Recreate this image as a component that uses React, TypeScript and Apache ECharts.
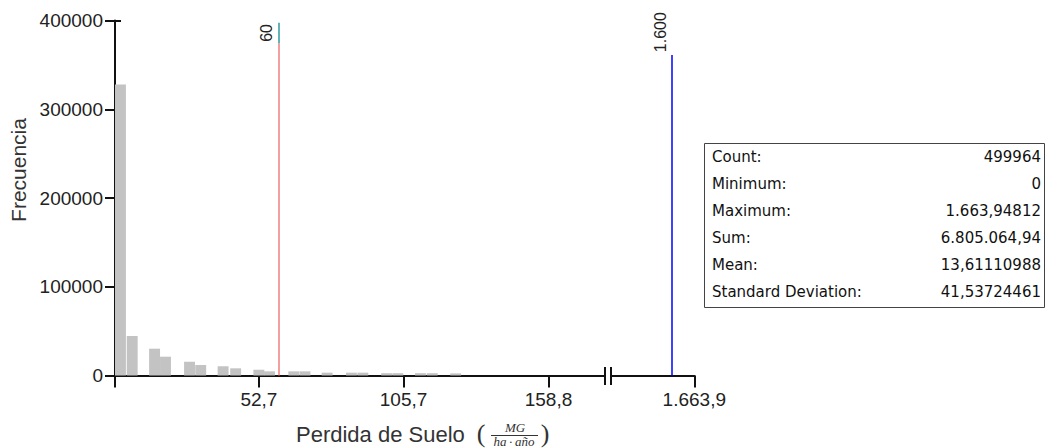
import React, { useEffect, useRef } from "react";
import * as echarts from "echarts";

// ---- data ----
const binStarts = [0, 4.3, 12.5, 16.5, 25.3, 29.4, 37.6, 42.2, 50.7, 54.6, 63.5, 67.6, 75.7, 84.6, 88.8, 97.5, 101.6, 109.9, 114.2, 122.8];
const binCounts = [328000, 44500, 30200, 21200, 15500, 11800, 10400, 8100, 6500, 4700, 4700, 4700, 3200, 3200, 3200, 2600, 2600, 2600, 2600, 2400];
const BIN_WIDTH = 4.0;
const xTicksLeft = [52.7, 105.7, 158.8];
const xTicksRight = [1663.9];
const markerLow = 60;
const markerHigh = 1600;
const statLabels = ["Count:", "Minimum:", "Maximum:", "Sum:", "Mean:", "Standard Deviation:"];
const statValues = ["499964", "0", "1.663,94812", "6.805.064,94", "13,61110988", "41,53724461"];

function fmtEs(v: number, decimals: number): string {
  const [i, d] = v.toFixed(decimals).split(".");
  const ii = i.replace(/\B(?=(\d{3})+(?!\d))/g, ".");
  return d ? ii + "," + d : ii;
}

const AX = "#111";
const LABEL = "#222";

export default function App() {
  const ref = useRef<HTMLDivElement>(null);
  useEffect(() => {
    if (!ref.current) return;
    const chart = echarts.init(ref.current, null, { renderer: "svg" });
    const axisLineStyle = { color: AX, width: 2 };
    const option: any = {
      animation: false,
      textStyle: { fontFamily: "Liberation Sans" },
      grid: [
        { left: 115, top: 20.5, width: 490, height: 355 },
        { left: 611, top: 20.5, width: 83.3, height: 355 },
      ],
      xAxis: [
        {
          type: "value", gridIndex: 0, min: 0, max: 179.5,
          axisLine: { show: true, onZero: false, lineStyle: axisLineStyle },
          axisTick: { show: true, customValues: [0, ...xTicksLeft], length: 12, lineStyle: axisLineStyle },
          axisLabel: { customValues: xTicksLeft, formatter: (v: number) => fmtEs(v, 1), fontSize: 19, color: LABEL, margin: 14 },
          splitLine: { show: false },
        },
        {
          type: "value", gridIndex: 1, min: 1423, max: 1663.9,
          axisLine: { show: true, onZero: false, lineStyle: axisLineStyle },
          axisTick: { show: true, customValues: xTicksRight, length: 12, lineStyle: axisLineStyle },
          axisLabel: { customValues: xTicksRight, showMaxLabel: true, formatter: (v: number) => fmtEs(v, 1), fontSize: 19, color: LABEL, margin: 14 },
          splitLine: { show: false },
        },
      ],
      yAxis: [
        {
          type: "value", gridIndex: 0, min: 0, max: 400000, interval: 100000,
          axisLine: { show: true, lineStyle: axisLineStyle },
          axisTick: { show: true, length: 10, lineStyle: axisLineStyle },
          axisLabel: { fontSize: 19, color: LABEL, margin: 12, formatter: (v: number) => String(v) },
          splitLine: { show: false },
        },
        { type: "value", gridIndex: 1, min: 0, max: 400000, show: false },
        {
          type: "value", gridIndex: 0, min: 0, max: 400000, interval: 100000, position: "left",
          axisLine: { show: false },
          axisTick: { show: true, inside: true, length: 6, lineStyle: axisLineStyle },
          axisLabel: { show: false },
          splitLine: { show: false },
        },
      ],
      series: [
        {
          type: "custom",
          xAxisIndex: 0,
          yAxisIndex: 0,
          data: binStarts.map((s, i) => [s, s + BIN_WIDTH, binCounts[i]]),
          encode: { x: [0, 1], y: 2 },
          renderItem: (params: any, api: any) => {
            const p0 = api.coord([api.value(0), 0]);
            const p1 = api.coord([api.value(1), api.value(2)]);
            return {
              type: "rect",
              shape: { x: p0[0], y: p1[1], width: p1[0] - p0[0], height: p0[1] - p1[1] },
              style: { fill: "#c3c3c3" },
            };
          },
          markLine: {
            silent: true,
            symbol: ["none", "none"],
            label: { show: false },
            data: [
              [{ coord: [markerLow, 0], lineStyle: { color: "#f07f7f", width: 1.5, type: "solid" } }, { coord: [markerLow, 374300] }],
              [{ coord: [markerLow, 374300], lineStyle: { color: "#2e9a9a", width: 1.5, type: "solid" } }, { coord: [markerLow, 397500] }],
            ],
          },
        },
        {
          type: "line",
          xAxisIndex: 1,
          yAxisIndex: 1,
          data: [],
          markLine: {
            silent: true,
            symbol: ["none", "none"],
            label: { show: false },
            data: [
              [{ coord: [markerHigh, 0], lineStyle: { color: "#0000ff", width: 1.5, type: "solid" } }, { coord: [markerHigh, 361000] }],
            ],
          },
        },
      ],
    };
    chart.setOption(option);

    const pLow = chart.convertToPixel({ xAxisIndex: 0, yAxisIndex: 0 }, [markerLow, 386000]) as number[];
    const pHigh = chart.convertToPixel({ xAxisIndex: 1, yAxisIndex: 1 }, [markerHigh, 361000]) as number[];

    const serif = "Liberation Serif";
    const graphic: any[] = [
      {
        type: "text", x: pLow[0] - 12, y: pLow[1], rotation: Math.PI / 2,
        style: { text: fmtEs(markerLow, 0), fontSize: 16, fontFamily: "Liberation Sans", fill: LABEL, align: "center", verticalAlign: "middle" },
      },
      {
        type: "text", x: pHigh[0] - 11.5, y: pHigh[1] - 23, rotation: Math.PI / 2,
        style: { text: fmtEs(markerHigh, 0), fontSize: 16, fontFamily: "Liberation Sans", fill: LABEL, align: "center", verticalAlign: "middle" },
      },
      {
        type: "text", x: 18, y: 170, rotation: Math.PI / 2,
        style: { text: "Frecuencia", fontSize: 21, fontFamily: "Liberation Sans", fill: "#333", align: "center", verticalAlign: "middle" },
      },
      {
        type: "text", x: 296, y: 434,
        style: { text: "Perdida de Suelo", fontSize: 22, fontFamily: "Liberation Sans", fill: "#333", align: "left", verticalAlign: "middle" },
      },
      {
        type: "text", x: 481, y: 433,
        style: { text: "(", fontSize: 26, fontFamily: serif, fill: "#333", align: "center", verticalAlign: "middle" },
      },
      {
        type: "text", x: 515, y: 427,
        style: { text: "MG", fontSize: 13, fontStyle: "italic", fontFamily: serif, fill: "#333", align: "center", verticalAlign: "middle" },
      },
      {
        type: "line", shape: { x1: 491, y1: 435.5, x2: 538, y2: 435.5 }, style: { stroke: "#333", lineWidth: 1 },
      },
      {
        type: "text", x: 514, y: 441,
        style: { text: "ha\u2009·\u2009año", fontSize: 13, fontStyle: "italic", fontFamily: serif, fill: "#333", align: "center", verticalAlign: "middle" },
      },
      {
        type: "text", x: 545, y: 433,
        style: { text: ")", fontSize: 26, fontFamily: serif, fill: "#333", align: "center", verticalAlign: "middle" },
      },
      { type: "line", shape: { x1: 605, y1: 367, x2: 605, y2: 385 }, style: { stroke: AX, lineWidth: 2 } },
      { type: "line", shape: { x1: 611, y1: 367, x2: 611, y2: 385 }, style: { stroke: AX, lineWidth: 2 } },
      {
        type: "rect", shape: { x: 704.5, y: 143.5, width: 340, height: 164 },
        style: { fill: "#fff", stroke: "#444", lineWidth: 1 },
      },
    ];
    statLabels.forEach((lab, i) => {
      const y = 157 + i * 27;
      graphic.push({
        type: "text", x: 712, y,
        style: { text: lab, fontSize: 15, fontFamily: "DejaVu Sans", fill: "#111", align: "left", verticalAlign: "middle" },
      });
      graphic.push({
        type: "text", x: 1041, y,
        style: { text: statValues[i], fontSize: 15, fontFamily: "DejaVu Sans", fill: "#111", align: "right", verticalAlign: "middle" },
      });
    });
    chart.setOption({ graphic });

    return () => chart.dispose();
  }, []);
  return (
    <div
      ref={ref}
      style={{ position: "absolute", left: 0, top: 0, width: 1046, height: 448, background: "#fff" }}
    />
  );
}
